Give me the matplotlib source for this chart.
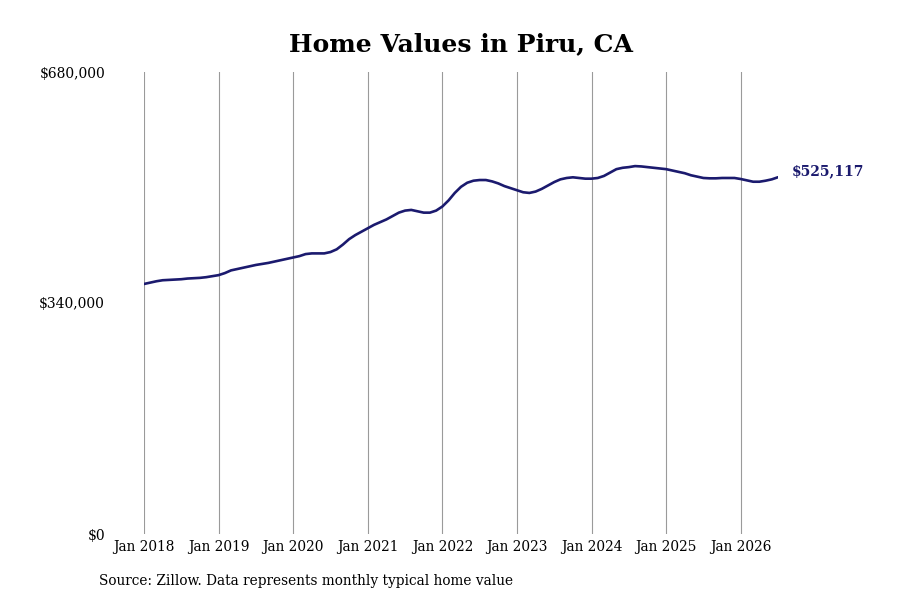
import numpy as np
import pandas as pd
import matplotlib
matplotlib.use('Agg')
from matplotlib import pyplot as plt

# monthly typical home value, Jan 2018 - Jul 2026
v2018 = [368000, 370000, 372000, 373500, 374000, 374500, 375000, 376000, 376500, 377000, 378000, 379500]
v2019 = [381000, 384000, 388000, 390000, 392000, 394000, 396000, 397500, 399000, 401000, 403000, 405000]
v2020 = [407000, 409000, 412000, 413000, 413000, 413000, 415000, 419000, 426000, 434000, 440000, 445000]
v2021 = [450000, 455000, 459000, 463000, 468000, 473000, 476000, 477000, 475000, 473000, 473000, 476000]
v2022 = [482000, 491000, 502000, 511000, 517000, 520000, 521000, 521000, 519000, 516000, 512000, 509000]
v2023 = [506000, 503000, 502000, 504000, 508000, 513000, 518000, 522000, 524000, 525000, 524000, 523000]
v2024 = [523000, 524000, 527000, 532000, 537000, 539000, 540000, 541500, 541000, 540000, 539000, 538000]
v2025 = [537000, 535000, 533000, 531000, 528000, 526000, 524000, 523500, 523500, 524000, 524000, 524000]
v2026 = [522500, 520500, 518500, 518500, 520000, 522000, 525117]

values = v2018 + v2019 + v2020 + v2021 + v2022 + v2023 + v2024 + v2025 + v2026
dates = pd.date_range('2018-01-01', periods=len(values), freq='MS')

y_ticks = [0, 340000, 680000]
y_labels = ['$0', '$340,000', '$680,000']
tick_years = list(range(2018, 2027))

SERIF = 'DejaVu Serif'
NAVY = '#1b1a6e'

fig = plt.figure(figsize=(9, 6), dpi=100)
ax = fig.add_axes([144 / 900, 1 - 534 / 600, (778 - 144) / 900, (534 - 72) / 600])

# evenly spaced months, as in the original
idx = np.arange(len(values))
ax.plot(idx, values, color=NAVY, linewidth=1.9, solid_capstyle='round')

ax.set_xlim(0, len(values) - 1)
ax.set_ylim(0, 680000)

for s in ax.spines.values():
    s.set_visible(False)

tick_pos = [list(dates).index(pd.Timestamp(f'{y}-01-01')) for y in tick_years]
ax.set_xticks(tick_pos)
ax.set_xticklabels([f'Jan {y}' for y in tick_years], family=SERIF,
                   fontstretch='condensed', fontsize=11)
ax.set_yticks(y_ticks)
ax.set_yticklabels(y_labels, family=SERIF, fontsize=10)
ax.tick_params(axis='x', length=0, pad=4)
ax.tick_params(axis='y', length=0, pad=28)
ax.grid(axis='x', color='#9a9a9a', linewidth=0.8)
ax.set_axisbelow(True)

ax.annotate(f'${values[-1]:,.0f}', xy=(idx[-1], values[-1]),
            xytext=(10, 4), textcoords='offset points', va='center', ha='left',
            family=SERIF, fontweight='bold', fontsize=10, color=NAVY,
            annotation_clip=False)

fig.text(461 / 900, 1 - 44 / 600, 'Home Values in Piru, CA', ha='center', va='center',
         family=SERIF, fontweight='bold', fontsize=18)
fig.text(99 / 900, 1 - 581 / 600, 'Source: Zillow. Data represents monthly typical home value',
         ha='left', va='center', family=SERIF, fontstretch='condensed', fontsize=11)

fig.savefig('out.png', dpi=100, facecolor='white')
